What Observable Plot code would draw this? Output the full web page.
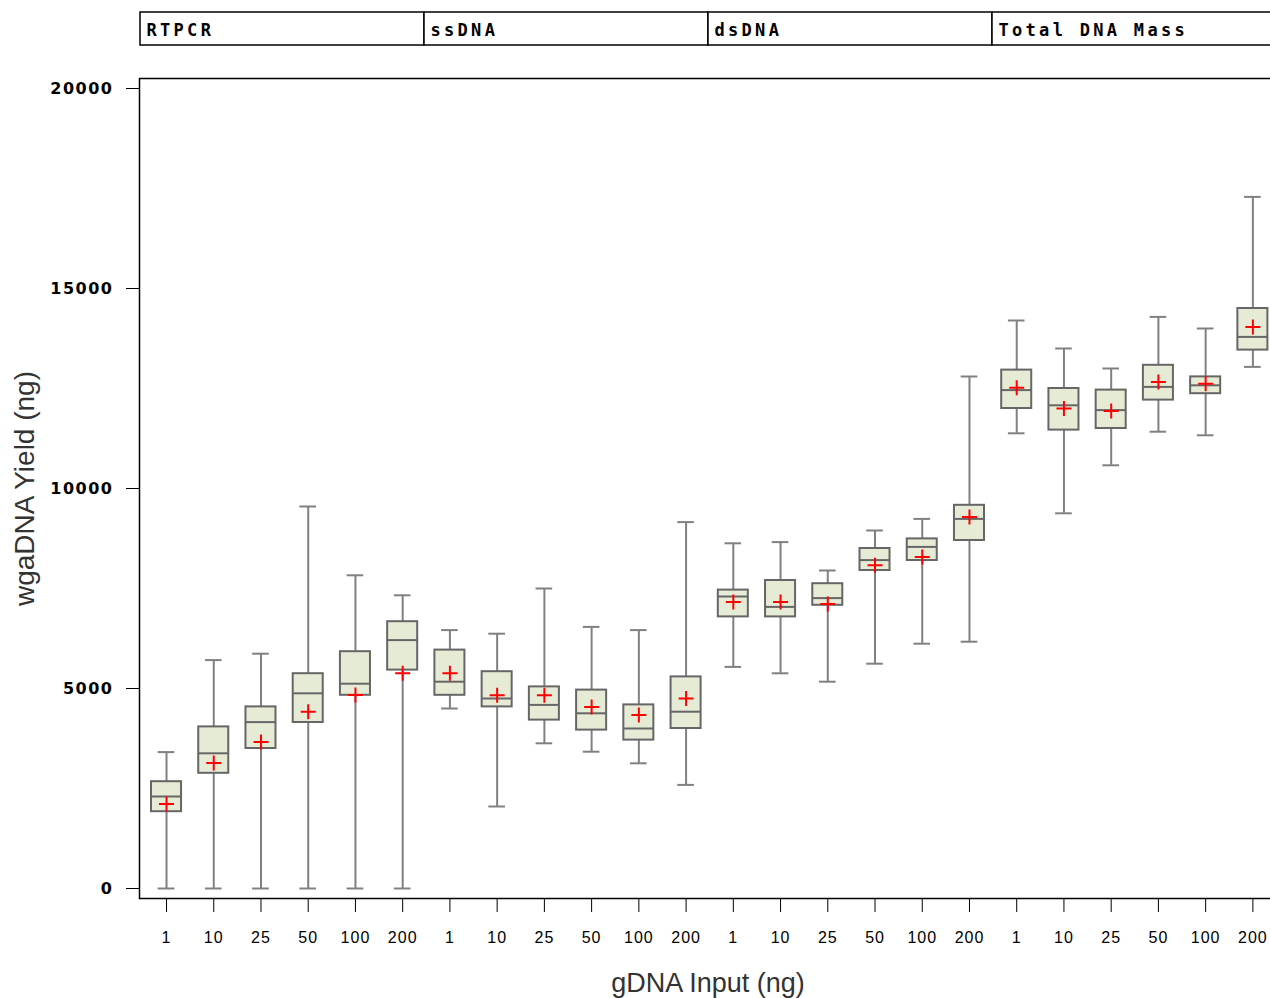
<!DOCTYPE html>
<html>
<head>
<meta charset="utf-8">
<script src="https://cdn.jsdelivr.net/npm/d3@7"></script>
<script src="https://cdn.jsdelivr.net/npm/@observablehq/plot@0.6"></script>
<style>
  html, body { margin: 0; padding: 0; background: white; overflow: hidden; width: 1270px; height: 998px; }
  #chart { width: 1280px; }
  #chart svg { display: block; max-width: none !important; height: auto; }
  g[aria-label="y-axis tick label"] { letter-spacing: 1.5px; }
  g[aria-label="x-axis tick label"] { letter-spacing: 1px; }
  .strip g[aria-label="text"] { letter-spacing: 3.3px; }
</style>
</head>
<body>
<div id="chart"></div>
<script>
// ---- data ----
const groups = ["RTPCR", "ssDNA", "dsDNA", "Total DNA Mass"];
const inputs = ["1", "10", "25", "50", "100", "200"];

const mins    = [0, 0, 0, 0, 0, 0,
                 4500, 2050, 3630, 3420, 3130, 2590,
                 5540, 5380, 5170, 5620, 6120, 6170,
                 11380, 9380, 10580, 11420, 11330, 13040];
const q1s     = [1920, 2880, 3500, 4150, 4830, 5460,
                 4830, 4540, 4210, 3960, 3710, 4000,
                 6790, 6790, 7080, 7950, 8200, 8700,
                 12000, 11460, 11500, 12210, 12370, 13460];
const medians = [2300, 3380, 4160, 4880, 5120, 6210,
                 5170, 4750, 4590, 4380, 4000, 4420,
                 7300, 7040, 7260, 8210, 8540, 9240,
                 12460, 12080, 11960, 12540, 12580, 13790];
const q3s     = [2670, 4040, 4540, 5370, 5920, 6670,
                 5960, 5420, 5040, 4960, 4590, 5290,
                 7460, 7700, 7620, 8500, 8740, 9580,
                 12960, 12500, 12460, 13080, 12790, 14500];
const maxs    = [3410, 5710, 5870, 9550, 7830, 7330,
                 6460, 6370, 7500, 6540, 6460, 9160,
                 8630, 8660, 7950, 8950, 9240, 12800,
                 14200, 13500, 13000, 14290, 14000, 17290];
const means   = [2110, 3140, 3660, 4420, 4840, 5380,
                 5380, 4830, 4830, 4540, 4340, 4750,
                 7160, 7160, 7110, 8080, 8290, 9290,
                 12520, 12000, 11940, 12660, 12620, 14040];

const yTicks = [0, 5000, 10000, 15000, 20000];
const xLabel = "gDNA Input (ng)";
const yLabel = "wgaDNA Yield (ng)";

// ---- table built from arrays ----
const keys = [];
groups.forEach(g => inputs.forEach(i => keys.push(g + "|" + i)));
const stats = keys.map((key, k) => ({
  key, min: mins[k], q1: q1s[k], median: medians[k], q3: q3s[k], max: maxs[k], mean: means[k]
}));

// thin "+" symbol
const plusSymbol = {
  draw(context, size) {
    const r = Math.sqrt(size / Math.PI);
    context.moveTo(-r, 0); context.lineTo(r, 0);
    context.moveTo(0, -r); context.lineTo(0, r);
  }
};

const W = 1280;

// ---- strip header ----
const stripStep = (1276 - 140) / groups.length;
const strip = Plot.plot({
  className: "strip",
  width: W, height: 46,
  marginTop: 12, marginBottom: 1, marginLeft: 140, marginRight: 4,
  style: {background: "white", color: "black", overflow: "visible"},
  x: {domain: groups, padding: 0, round: false, axis: null},
  marks: [
    Plot.cell(groups, {x: d => d, fill: "white", stroke: "black", strokeWidth: 1.5}),
    Plot.text(groups, {x: d => d, text: d => d, textAnchor: "start", dx: -stripStep / 2 + 6,
      fontFamily: "DejaVu Sans Mono", fontWeight: "bold", fontSize: 17, fill: "black", dy: 2})
  ]
});

// ---- main chart ----
const main = Plot.plot({
  width: W, height: 952,
  marginTop: 32, marginBottom: 100, marginLeft: 139, marginRight: 4,
  style: {background: "white", color: "black", fontFamily: "Liberation Sans", overflow: "visible"},
  x: {domain: keys, padding: 0, round: false, insetLeft: 3.4},
  y: {domain: [0, 20000], insetTop: 10, insetBottom: 10},
  marks: [
    Plot.axisY({ticks: yTicks, tickSize: 13, tickPadding: 13, tickFormat: d => String(d),
      fontFamily: "DejaVu Sans", fontWeight: "bold", fontSize: 16, label: null, stroke: "black"}),
    Plot.axisX({tickSize: 14, tickPadding: 19, tickFormat: d => d.split("|")[1],
      fontFamily: "Liberation Sans", fontSize: 16, label: null, stroke: "black"}),
    Plot.ruleX(stats, {x: "key", y1: "min", y2: "max", stroke: "#808080", strokeWidth: 2}),
    Plot.tickY(stats, {x: "key", y: "min", stroke: "#808080", strokeWidth: 2, insetLeft: 15.3, insetRight: 15.3}),
    Plot.tickY(stats, {x: "key", y: "max", stroke: "#808080", strokeWidth: 2, insetLeft: 15.3, insetRight: 15.3}),
    Plot.barY(stats, {x: "key", y1: "q1", y2: "q3", fill: "#e6ebd5", stroke: "#666666", strokeWidth: 2, insetLeft: 8.6, insetRight: 8.6}),
    Plot.tickY(stats, {x: "key", y: "median", stroke: "#666666", strokeWidth: 2, insetLeft: 8.6, insetRight: 8.6}),
    Plot.dot(stats, {x: "key", y: "mean", symbol: plusSymbol, r: 7.5, stroke: "red", fill: "none", strokeWidth: 2}),
    Plot.frame({stroke: "black", strokeWidth: 1.5}),
    Plot.text([yLabel], {frameAnchor: "left", dx: -114, rotate: -90, fontSize: 28,
      fontFamily: "Liberation Sans", fill: "#333", textAnchor: "middle", lineAnchor: "middle"}),
    Plot.text([xLabel], {frameAnchor: "bottom", dy: 85, fontSize: 27,
      fontFamily: "Liberation Sans", fill: "#333", textAnchor: "middle", lineAnchor: "middle"})
  ]
});

const chart = document.getElementById("chart");
chart.appendChild(strip);
chart.appendChild(main);
</script>
</body>
</html>
